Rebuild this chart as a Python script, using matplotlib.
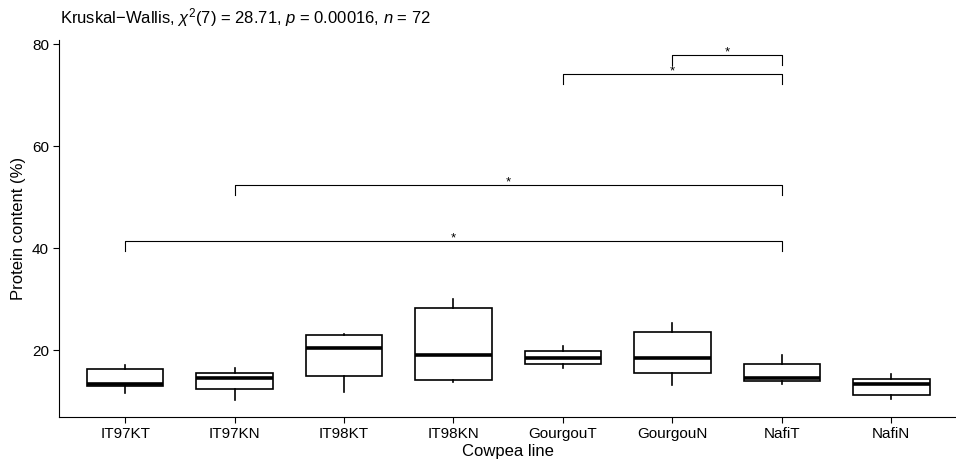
import matplotlib as mpl
mpl.use('Agg')
import matplotlib.pyplot as plt

# 字体设置
plt.rcParams['font.family'] = ['Liberation Sans', 'DejaVu Sans']
plt.rcParams['mathtext.fontset'] = 'custom'
plt.rcParams['mathtext.rm'] = 'Liberation Sans'
plt.rcParams['mathtext.it'] = 'Liberation Sans:italic'

lines = ['IT97KT', 'IT97KN', 'IT98KT', 'IT98KN', 'GourgouT', 'GourgouN', 'NafiT', 'NafiN']
whislo = [11.7, 10.3, 11.9, 13.7, 16.6, 13.1, 13.4, 10.4]
q1 = [13.0, 12.4, 14.9, 14.2, 17.3, 15.5, 13.9, 11.3]
med = [13.4, 14.6, 20.4, 19.1, 18.5, 18.4, 14.6, 13.4]
q3 = [16.3, 15.6, 22.9, 28.3, 19.9, 23.5, 17.3, 14.3]
whishi = [17.1, 16.5, 23.1, 30.1, 20.9, 25.4, 19.0, 15.4]

# pairwise comparisons: (group a, group b, bracket height, label)
pairs = [('IT97KT', 'NafiT', 41.4, '*'),
         ('IT97KN', 'NafiT', 52.4, '*'),
         ('GourgouT', 'NafiT', 74.1, '*'),
         ('GourgouN', 'NafiT', 77.8, '*')]

fig = plt.figure(figsize=(9.56, 4.61), dpi=100)
ax = fig.add_axes([0.0622, 0.0954, 0.9388, 0.818])

stats = []
for i in range(len(lines)):
    stats.append({'whislo': whislo[i], 'q1': q1[i], 'med': med[i],
                  'q3': q3[i], 'whishi': whishi[i], 'fliers': []})
pos = list(range(1, len(lines) + 1))
ax.bxp(stats, positions=pos, widths=0.7, showcaps=False, patch_artist=True,
       boxprops=dict(facecolor='white', edgecolor='black', linewidth=1.2),
       medianprops=dict(color='black', linewidth=2.6),
       whiskerprops=dict(color='black', linewidth=1.2))

# 显著性标记
for a, b, h, lab in pairs:
    xa = lines.index(a) + 1
    xb = lines.index(b) + 1
    ax.plot([xa, xa, xb, xb], [h - 2.0, h, h, h - 2.0], color='black', lw=0.8)
    ax.text((xa + xb) / 2, h - 0.1, lab, ha='center', va='baseline', fontsize=9.5)

ax.set_xlim(0.4, 8.6)
ax.set_ylim(6.9, 80.8)
ax.set_yticks([20, 40, 60, 80])
ax.set_xticks(pos)
ax.set_xticklabels(lines)
ax.tick_params(labelsize=11, colors='black', length=4)
ax.spines['top'].set_visible(False)
ax.spines['right'].set_visible(False)
ax.set_xlabel('Cowpea line', fontsize=12, labelpad=2)
ax.set_ylabel('Protein content (%)', fontsize=12, labelpad=4)

fig.text(0.0628, 0.962, r'Kruskal$-$Wallis, $\chi^2$(7) = 28.71, $\mathit{p}$ = 0.00016, $\mathit{n}$ = 72',
         fontsize=12, ha='left', va='center')

plt.savefig('out.png', dpi=100)
